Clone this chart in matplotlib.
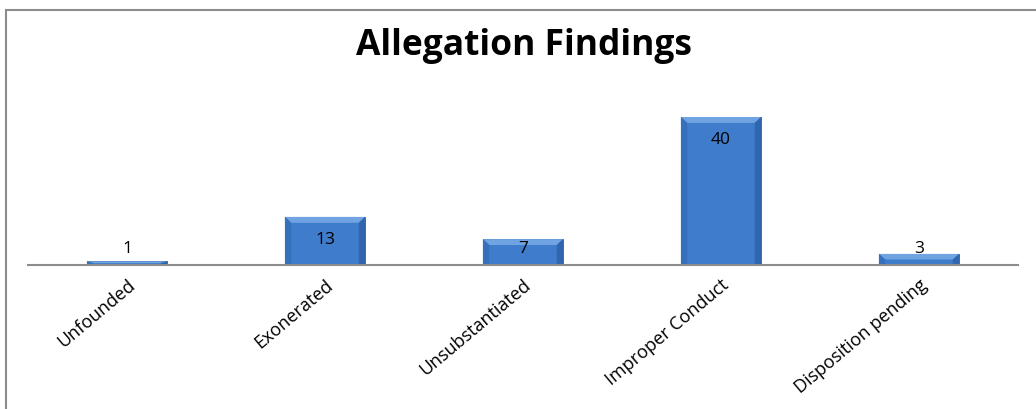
import matplotlib
matplotlib.use('Agg')
from matplotlib import pyplot as plt
from matplotlib.patches import Polygon, Rectangle
import numpy as np

categories = ['Unfounded', 'Exonerated', 'Unsubstantiated', 'Improper Conduct', 'Disposition pending']
counts = [1, 13, 7, 40, 3]

plt.rcParams['font.family'] = ['Open Sans', 'DejaVu Sans']

fig = plt.figure(figsize=(10.36, 4.09), dpi=100)
ax = fig.add_axes([28 / 1036, 1 - 265 / 409, 990 / 1036, 166.5 / 409])

x = np.arange(len(categories))
width = 0.405
bars = ax.bar(x, counts, width=width, color='#3f7dcc', edgecolor='#2d63a6', linewidth=0.6, zorder=2)

# bevel look: lighter top strip, darker sides
bx = 0.032
by = 1.6
for b in bars:
    x0 = b.get_x()
    x1 = x0 + b.get_width()
    h = b.get_height()
    d = min(by, h / 2)
    dx = min(bx, b.get_width() / 2)
    ax.add_patch(Polygon([(x0, h), (x1, h), (x1 - dx, h - d), (x0 + dx, h - d)],
                         closed=True, facecolor='#6fa3e2', edgecolor='none', zorder=3))
    ax.add_patch(Polygon([(x0, 0), (x0, h), (x0 + dx, h - d), (x0 + dx, 0)],
                         closed=True, facecolor='#3570bd', edgecolor='none', zorder=3))
    ax.add_patch(Polygon([(x1, 0), (x1, h), (x1 - dx, h - d), (x1 - dx, 0)],
                         closed=True, facecolor='#2f66ae', edgecolor='none', zorder=3))

for xi, v in zip(x, counts):
    ax.text(xi, max(v - 6.3, 4.3), str(v), ha='center', va='center', fontsize=12.5, color='black', zorder=4)

ax.set_xlim(-0.5, len(categories) - 0.5)
ax.set_ylim(0, 45)
ax.set_xticks(x)
ax.set_xticklabels(categories, rotation=40, ha='right', rotation_mode='anchor', fontsize=13)
ax.tick_params(axis='x', length=0, pad=8)
ax.set_yticks([])
for s in ['top', 'left', 'right']:
    ax.spines[s].set_visible(False)
ax.spines['bottom'].set_color('#8c8c8c')
ax.spines['bottom'].set_linewidth(1.5)
ax.spines['bottom'].set_zorder(5)

fig.text(0.506, 1 - 55 / 409, 'Allegation Findings', ha='center', va='baseline',
         fontsize=25.5, fontweight='bold')

# chart border (left and top visible)
fig.patches.append(Rectangle((6 / 1036, -0.5), 1.2, 1.5 - 10 / 409, transform=fig.transFigure,
                             fill=False, edgecolor='#8c8c8c', linewidth=1.5))

fig.savefig('out.png', dpi=100)
